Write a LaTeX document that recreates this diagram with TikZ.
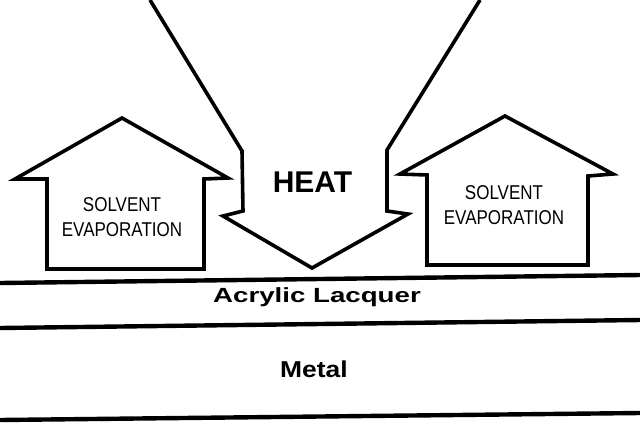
\documentclass[tikz,border=0pt]{standalone}
\usepackage{fontspec}
\setmainfont{Liberation Sans}
\newfontfamily\evapfont[FakeStretch=0.85]{Liberation Sans}
\newfontfamily\lacquerfont[FakeStretch=1.35]{Liberation Sans}
\newfontfamily\metalfont[FakeStretch=1.15]{Liberation Sans}
\usetikzlibrary{calc}

\tikzset{
  outline/.style={draw=black, line width=3.6pt, line join=miter},
  layer/.style={draw=black, line width=4.4pt},
  evap/.style={align=center, inner sep=0pt, font={\evapfont\fontsize{20}{25}\selectfont}},
}

\begin{document}
\begin{tikzpicture}[x=1pt, y=-1pt]
\useasboundingbox (0,0) rectangle (640,424);

% layers
\draw[layer] (0,283) -- (640,275);
\draw[layer] (0,328) -- (640,320);
\draw[layer] (0,420) -- (640,413);
\node[anchor=base, inner sep=0pt, font={\lacquerfont\bfseries\fontsize{20.5}{24}\selectfont}] (lacquer) at (317,302) {Acrylic Lacquer};
\node[anchor=base, inner sep=0pt, font={\metalfont\bfseries\fontsize{23}{27}\selectfont}] (metal) at (314,377) {Metal};

% heat arrow, open at the top
\coordinate (H1) at (150,0);
\coordinate (H2) at (242,151);
\coordinate (H3) at (243,211);
\coordinate (H4) at (223,216);
\coordinate (tip) at (312,268);
\coordinate (H5) at (408,214);
\coordinate (H6) at (387,211);
\coordinate (H7) at (387,150);
\coordinate (H8) at (480,0);
\draw[outline] (H1) -- (H2) -- (H3) -- (H4) -- (tip) -- (H5) -- (H6) -- (H7) -- (H8);
\node[anchor=base, inner sep=0pt, font={\bfseries\fontsize{30}{34}\selectfont}] (heat) at (312.5,192) {HEAT};

% solvent arrows
\draw[outline] (15,179) -- (122,118) -- (228,178) -- (204,179) -- (204,269) -- (47,269) -- (47,179) -- cycle;
\node[evap] (solvL) at (122,217.5) {SOLVENT\\EVAPORATION};

\draw[outline] (400,174) -- (505,116) -- (613,174) -- (588,176) -- (588,265) -- (427,265) -- (427,175) -- cycle;
\node[evap] (solvR) at (504,205) {SOLVENT\\EVAPORATION};
\end{tikzpicture}
\end{document}
